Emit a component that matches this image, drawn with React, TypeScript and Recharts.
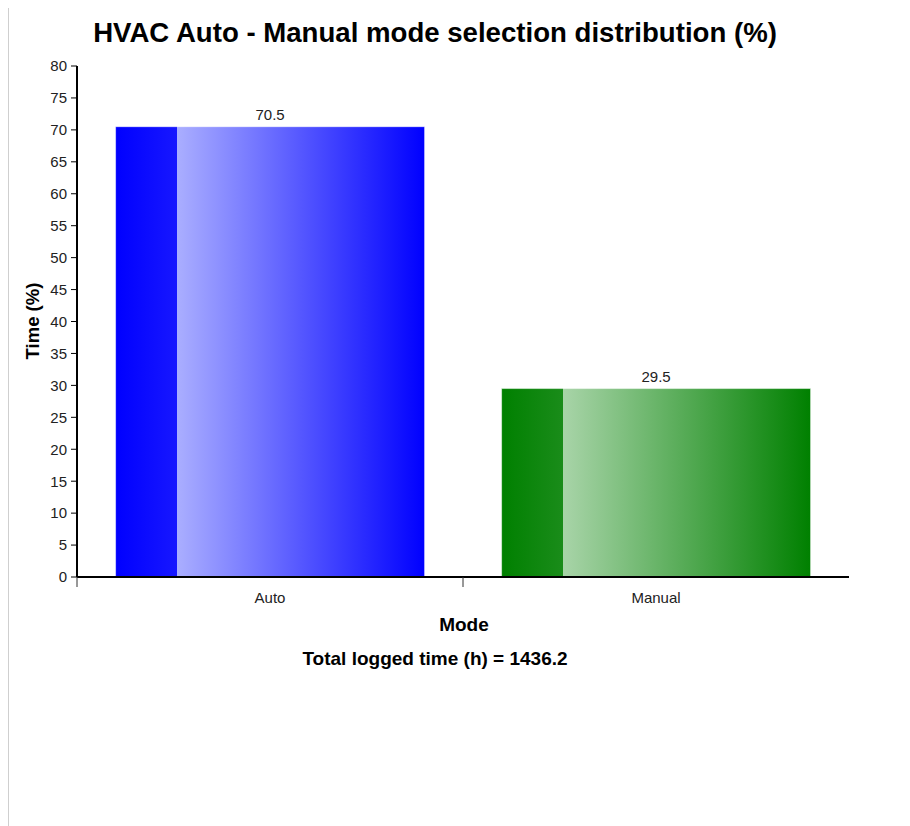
import React from 'react';
import { BarChart, Bar, XAxis, YAxis, Cell, LabelList } from 'recharts';

const categories = ['Auto', 'Manual'];
const percentValues = [70.5, 29.5];
const yTicks = [0, 5, 10, 15, 20, 25, 30, 35, 40, 45, 50, 55, 60, 65, 70, 75, 80];
const gradientIds = ['gradAuto', 'gradManual'];
const titleText = 'HVAC Auto - Manual mode selection distribution (%)';
const yLabelText = 'Time (%)';
const xLabelText = 'Mode';
const footerText = 'Total logged time (h) = 1436.2';

const data = categories.map((c, i) => ({ mode: c, value: percentValues[i] }));

const FONT = 'Arial, "Liberation Sans", sans-serif';

const CHART_W = 902;
const MARGIN = { top: 58, right: 61, bottom: 0, left: 0 };
const Y_AXIS_W = 69;
const PLOT_W = CHART_W - MARGIN.left - MARGIN.right - Y_AXIS_W;
const BAND_HALF = PLOT_W / categories.length / 2;

function ModeTick(props: any) {
  const { x, y, payload } = props;
  return (
    <g>
      <line x1={x - BAND_HALF} x2={x - BAND_HALF} y1={y} y2={y + 10} stroke="#333" strokeWidth={1} />
      <text x={x} y={y + 26} textAnchor="middle" fill="#222" fontSize={15} fontFamily={FONT}>
        {payload.value}
      </text>
    </g>
  );
}

export default function App() {
  return (
    <div style={{ position: 'relative', width: 902, height: 818, fontFamily: FONT }}>
      <div style={{ position: 'absolute', left: 0, top: 0, width: 1, height: 818, background: '#cfcfcf' }} />
      <div
        style={{
          position: 'absolute', left: 0, top: 9, width: 854, textAlign: 'center',
          fontSize: 27.6, fontWeight: 'bold', lineHeight: '32px', color: '#000',
        }}
      >
        {titleText}
      </div>
      <div
        style={{
          position: 'absolute', left: 25 - 60, top: 313 - 11, width: 120, height: 22, lineHeight: '22px',
          textAlign: 'center', fontSize: 18.5, fontWeight: 'bold', transform: 'rotate(-90deg)', color: '#000',
        }}
      >
        {yLabelText}
      </div>
      <div
        style={{
          position: 'absolute', left: 456 - 100, top: 606, width: 200, textAlign: 'center',
          fontSize: 19, fontWeight: 'bold', lineHeight: '22px', color: '#000',
        }}
      >
        {xLabelText}
      </div>
      <div
        style={{
          position: 'absolute', left: 0, top: 640, width: 854, textAlign: 'center',
          fontSize: 19, fontWeight: 'bold', lineHeight: '22px', color: '#000',
        }}
      >
        {footerText}
      </div>
      <div style={{ position: 'absolute', left: 0, top: 0 }}>
        <BarChart
          width={CHART_W}
          height={600}
          data={data}
          margin={MARGIN}
          barCategoryGap="10%"
        >
          <defs>
            <linearGradient id="gradAuto" x1="0" y1="0" x2="1" y2="0">
              <stop offset="0" stopColor="#0000ff" />
              <stop offset="0.2" stopColor="#1717ff" />
              <stop offset="0.2" stopColor="#aaaeff" />
              <stop offset="1" stopColor="#0000ff" />
            </linearGradient>
            <linearGradient id="gradManual" x1="0" y1="0" x2="1" y2="0">
              <stop offset="0" stopColor="#008000" />
              <stop offset="0.2" stopColor="#1a8c1a" />
              <stop offset="0.2" stopColor="#a8d4a8" />
              <stop offset="1" stopColor="#008000" />
            </linearGradient>
          </defs>
          <XAxis
            dataKey="mode"
            height={31}
            axisLine={{ stroke: '#000', strokeWidth: 2 }}
            tickLine={false}
            tickSize={0}
            tickMargin={0}
            interval={0}
            tick={<ModeTick />}
          />
          <YAxis
            type="number"
            domain={[0, 80]}
            ticks={yTicks}
            interval={0}
            width={Y_AXIS_W}
            tickSize={6}
            tickMargin={4}
            axisLine={{ stroke: '#000', strokeWidth: 2 }}
            tickLine={{ stroke: '#000', strokeWidth: 1 }}
            tick={{ fill: '#222', fontSize: 15, fontFamily: FONT }}
          />
          <Bar dataKey="value" isAnimationActive={false} stroke="rgba(255,255,255,0.5)" strokeWidth={1}>
            {data.map((d, i) => (
              <Cell key={d.mode} fill={`url(#${gradientIds[i]})`} />
            ))}
            <LabelList dataKey="value" position="top" offset={7} fill="#222" fontSize={15} fontFamily={FONT} />
          </Bar>
        </BarChart>
      </div>
    </div>
  );
}
